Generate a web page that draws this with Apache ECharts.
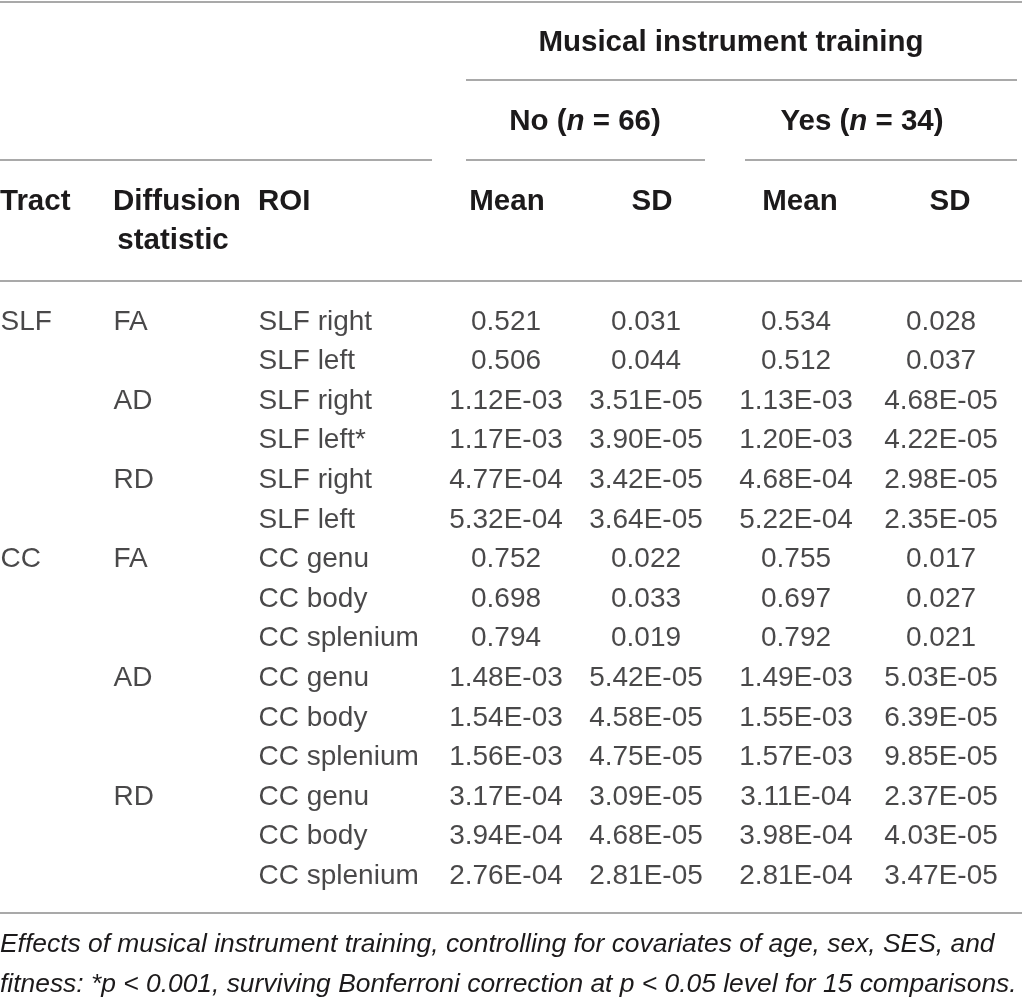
<!DOCTYPE html>
<html>
<head>
<meta charset="utf-8">
<script src="https://cdn.jsdelivr.net/npm/echarts@6/dist/echarts.min.js"></script>
<style>
html, body { margin: 0; padding: 0; background: #fff; }
#main { width: 1022px; height: 1000px; }
</style>
</head>
<body>
<div id="main"></div>
<script>
// table content
var tracts = ['SLF', '', '', '', '', '', 'CC', '', '', '', '', '', '', '', ''];
var stats = ['FA', '', 'AD', '', 'RD', '', 'FA', '', '', 'AD', '', '', 'RD', '', ''];
var rois = ['SLF right', 'SLF left', 'SLF right', 'SLF left*', 'SLF right', 'SLF left',
    'CC genu', 'CC body', 'CC splenium', 'CC genu', 'CC body', 'CC splenium',
    'CC genu', 'CC body', 'CC splenium'];
var noMean = [0.521, 0.506, 1.12e-3, 1.17e-3, 4.77e-4, 5.32e-4, 0.752, 0.698, 0.794,
    1.48e-3, 1.54e-3, 1.56e-3, 3.17e-4, 3.94e-4, 2.76e-4];
var noSD = [0.031, 0.044, 3.51e-5, 3.90e-5, 3.42e-5, 3.64e-5, 0.022, 0.033, 0.019,
    5.42e-5, 4.58e-5, 4.75e-5, 3.09e-5, 4.68e-5, 2.81e-5];
var yesMean = [0.534, 0.512, 1.13e-3, 1.20e-3, 4.68e-4, 5.22e-4, 0.755, 0.697, 0.792,
    1.49e-3, 1.55e-3, 1.57e-3, 3.11e-4, 3.98e-4, 2.81e-4];
var yesSD = [0.028, 0.037, 4.68e-5, 4.22e-5, 2.98e-5, 2.35e-5, 0.017, 0.027, 0.021,
    5.03e-5, 6.39e-5, 9.85e-5, 2.37e-5, 4.03e-5, 3.47e-5];
var colHeads = ['Tract', 'Diffusion', 'ROI', 'Mean', 'SD', 'Mean', 'SD'];
var groupTitle = 'Musical instrument training';
var groupNo = 66, groupYes = 34;
var footnote = ['Effects of musical instrument training, controlling for covariates of age, sex, SES, and',
    'fitness: *p < 0.001, surviving Bonferroni correction at p < 0.05 level for 15 comparisons.'];

var FONT = '"Liberation Sans", Arial, sans-serif';
var INK = '#1c1a1b';
var RULE = '#8c8c8c';
var HEAD_SIZE = 29.5;

function fmt(v) {
    if (typeof v === 'string') return v;
    if (v >= 0.01) return v.toFixed(3);
    return v.toExponential(2).toUpperCase().replace(/E-(\d)$/, 'E-0$1');
}

// column anchor (x on the hidden value axis) and alignment
var columns = [
    { texts: tracts, x: 0, align: 'left' },
    { texts: stats, x: 113, align: 'left' },
    { texts: rois, x: 258, align: 'left' },
    { texts: noMean, x: 506, align: 'center' },
    { texts: noSD, x: 646, align: 'center' },
    { texts: yesMean, x: 796, align: 'center' },
    { texts: yesSD, x: 941, align: 'center' }
];

var rowIdx = rois.map(function (r, i) { return String(i); });

var series = columns.map(function (col) {
    var items = [];
    col.texts.forEach(function (t, i) {
        if (t === '') return;
        items.push({ value: [col.x, i], txt: fmt(t) });
    });
    return {
        type: 'scatter',
        symbolSize: 1,
        itemStyle: { color: 'rgba(0,0,0,0)' },
        silent: true,
        data: items,
        label: {
            show: true,
            position: col.align == 'left' ? 'right' : 'inside',
            distance: 0,
            formatter: function (p) { return p.data.txt; },
            color: INK,
            fontFamily: FONT,
            fontSize: 28
        }
    };
});

function rule(x1, x2, y) {
    return { type: 'line', shape: { x1: x1, y1: y, x2: x2, y2: y }, style: { stroke: RULE, lineWidth: 1.4 } };
}
function head(t, x, y, align) {
    return {
        type: 'text', x: x, y: y,
        style: { text: t, fill: INK, fontFamily: FONT, fontSize: HEAD_SIZE, fontWeight: 'bold', align: align, verticalAlign: 'middle' }
    };
}
function groupHead(label, n, x) {
    var b = { fontFamily: FONT, fontSize: HEAD_SIZE, fontWeight: 'bold', fill: INK };
    return {
        type: 'text', x: x, y: 122,
        style: {
            text: '{b|' + label + ' (}{i|n}{b| = ' + n + ')}',
            align: 'center', verticalAlign: 'middle',
            rich: {
                b: b,
                i: { fontFamily: FONT, fontSize: HEAD_SIZE, fontWeight: 'bold', fontStyle: 'italic', fill: INK }
            }
        }
    };
}

var graphics = [
    rule(0, 1022, 2),
    head(groupTitle, 731, 43, 'center'),
    rule(466, 1017, 80),
    groupHead('No', groupNo, 585),
    groupHead('Yes', groupYes, 862),
    rule(0, 432, 160), rule(466, 705, 160), rule(745, 1017, 160),
    head(colHeads[0], 0, 202, 'left'),
    head(colHeads[1], 113, 202, 'left'),
    head('statistic', 173, 241, 'center'),
    head(colHeads[2], 258, 202, 'left'),
    head(colHeads[3], 507, 202, 'center'),
    head(colHeads[4], 652, 202, 'center'),
    head(colHeads[5], 800, 202, 'center'),
    head(colHeads[6], 950, 202, 'center'),
    rule(0, 1022, 281),
    rule(0, 1022, 913)
];
footnote.forEach(function (line, k) {
    graphics.push({
        type: 'text', x: 0, y: 945 + k * 40,
        style: { text: line, fill: INK, fontFamily: FONT, fontSize: 26.4, fontStyle: 'italic', align: 'left', verticalAlign: 'middle' }
    });
});

var option = {
    backgroundColor: '#fff',
    animation: false,
    grid: { left: 0, right: 0, top: 302, bottom: 104 },
    xAxis: { type: 'value', min: 0, max: 1022, show: false },
    yAxis: { type: 'category', data: rowIdx, inverse: true, show: false },
    graphic: graphics,
    series: series
};

var chart = echarts.init(document.getElementById('main'));
chart.setOption(option);
</script>
</body>
</html>
